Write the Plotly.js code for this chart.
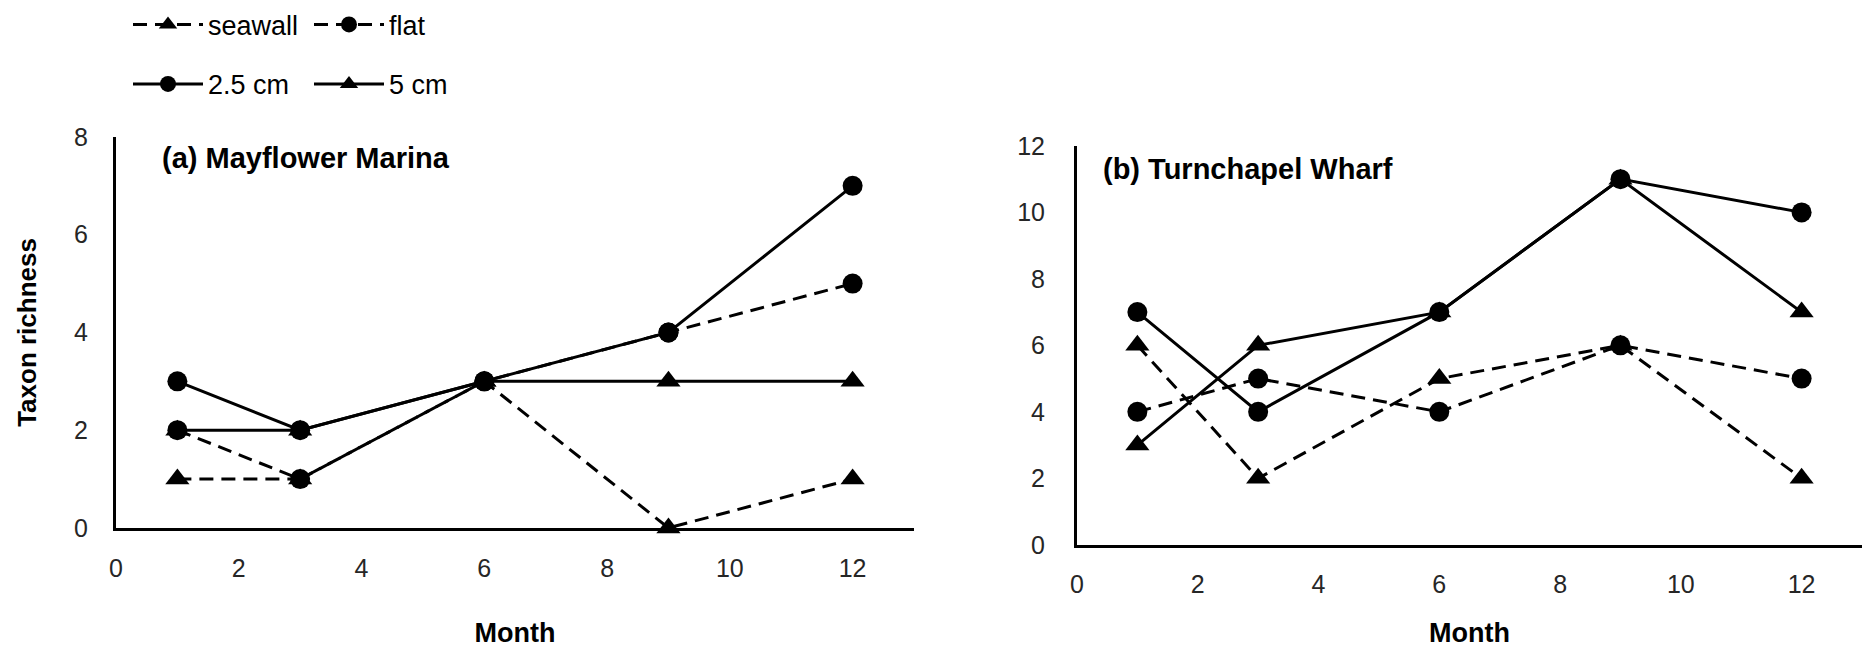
<!DOCTYPE html>
<html>
<head>
<meta charset="utf-8">
<script src="https://cdn.plot.ly/plotly-3.0.1.min.js"></script>
<style>html,body{margin:0;padding:0;background:#fff;}#chart{width:1866px;height:648px;}</style>
</head>
<body>
<div id="chart"></div>
<script>
// Data
const months = [1, 3, 6, 9, 12];
const seriesNames = ["seawall", "flat", "2.5 cm", "5 cm"];
// (a) Mayflower Marina
const mayflowerSeawall = [1, 1, 3, 0, 1];
const mayflowerFlat = [2, 1, 3, 4, 5];
const mayflower25cm = [3, 2, 3, 4, 7];
const mayflower5cm = [2, 2, 3, 3, 3];
// (b) Turnchapel Wharf
const turnchapelSeawall = [6, 2, 5, 6, 2];
const turnchapelFlat = [4, 5, 4, 6, 5];
const turnchapel25cm = [7, 4, 7, 11, 10];
const turnchapel5cm = [3, 6, 7, 11, 7];
const xTicks = [0, 2, 4, 6, 8, 10, 12];
const panelTitles = ["(a) Mayflower Marina", "(b) Turnchapel Wharf"];

const FONT = "'Liberation Sans', Arial, sans-serif";
const styles = {
  "seawall": {dash: "14px,8px", symbol: "triangle-up", legend: "legend"},
  "flat": {dash: "14px,8px", symbol: "circle", legend: "legend"},
  "2.5 cm": {dash: "solid", symbol: "circle", legend: "legend2"},
  "5 cm": {dash: "solid", symbol: "triangle-up", legend: "legend2"}
};

function mk(name, y, xa, ya, show) {
  const s = styles[name];
  return {
    x: months, y: y, name: name, type: "scatter", mode: "lines+markers",
    xaxis: xa, yaxis: ya, showlegend: show, legend: s.legend,
    cliponaxis: false,
    line: {color: "#000", width: 3, dash: s.dash},
    marker: {color: "#000", symbol: s.symbol, size: s.symbol === "circle" ? 20 : 21}
  };
}

const data = [
  mk("seawall", mayflowerSeawall, "x", "y", true),
  mk("flat", mayflowerFlat, "x", "y", true),
  mk("2.5 cm", mayflower25cm, "x", "y", true),
  mk("5 cm", mayflower5cm, "x", "y", true),
  mk("seawall", turnchapelSeawall, "x2", "y2", false),
  mk("flat", turnchapelFlat, "x2", "y2", false),
  mk("2.5 cm", turnchapel25cm, "x2", "y2", false),
  mk("5 cm", turnchapel5cm, "x2", "y2", false)
];

const W = 1866, H = 648;
const px = v => v / W;
const py = v => (H - v) / H;

const axisCommon = {
  showgrid: false, zeroline: false, showline: true, linecolor: "#000", linewidth: 3,
  ticks: "", tickfont: {family: FONT, size: 25, color: "#262626"}, fixedrange: true
};

const layout = {
  width: W, height: H, autosize: false,
  margin: {l: 0, r: 0, t: 0, b: 0},
  paper_bgcolor: "#fff", plot_bgcolor: "#fff",
  font: {family: FONT, color: "#000"},
  xaxis: Object.assign({}, axisCommon, {
    domain: [px(116), px(914)], range: [0, 13], tickvals: xTicks, anchor: "y",
    ticklabelstandoff: 16,
    title: {text: "Month", font: {family: FONT, size: 27, weight: "bold", color: "#000"}, standoff: 48}
  }),
  yaxis: Object.assign({}, axisCommon, {
    domain: [py(527), py(133)], range: [0, 8], dtick: 2, anchor: "x",
    ticklabelstandoff: 20,
    title: {text: "Taxon richness", font: {family: FONT, size: 26, weight: "bold", color: "#000"}, standoff: 30}
  }),
  xaxis2: Object.assign({}, axisCommon, {
    domain: [px(1077), px(1862)], range: [0, 13], tickvals: xTicks, anchor: "y2",
    ticklabelstandoff: 15,
    title: {text: "Month", font: {family: FONT, size: 27, weight: "bold", color: "#000"}, standoff: 33}
  }),
  yaxis2: Object.assign({}, axisCommon, {
    domain: [py(544), py(142)], range: [0, 12], dtick: 2, anchor: "x2",
    ticklabelstandoff: 24
  }),
  legend: {
    orientation: "h", x: px(128), xanchor: "left", y: py(20), yanchor: "middle",
    font: {family: FONT, size: 27, color: "#000"}, entrywidth: 96, itemwidth: 70,
    bgcolor: "rgba(0,0,0,0)", traceorder: "normal"
  },
  legend2: {
    orientation: "h", x: px(128), xanchor: "left", y: py(80), yanchor: "middle",
    font: {family: FONT, size: 27, color: "#000"}, entrywidth: 96, itemwidth: 70,
    bgcolor: "rgba(0,0,0,0)", traceorder: "normal"
  },
  annotations: [
    {text: panelTitles[0], xref: "paper", yref: "paper", x: px(160), y: py(154), xanchor: "left", yanchor: "middle",
     showarrow: false, font: {family: FONT, size: 29, weight: "bold", color: "#000"}},
    {text: panelTitles[1], xref: "paper", yref: "paper", x: px(1101), y: py(165), xanchor: "left", yanchor: "middle",
     showarrow: false, font: {family: FONT, size: 29, weight: "bold", color: "#000"}}
  ]
};

Plotly.newPlot("chart", data, layout, {displayModeBar: false, staticPlot: true});
</script>
</body>
</html>
